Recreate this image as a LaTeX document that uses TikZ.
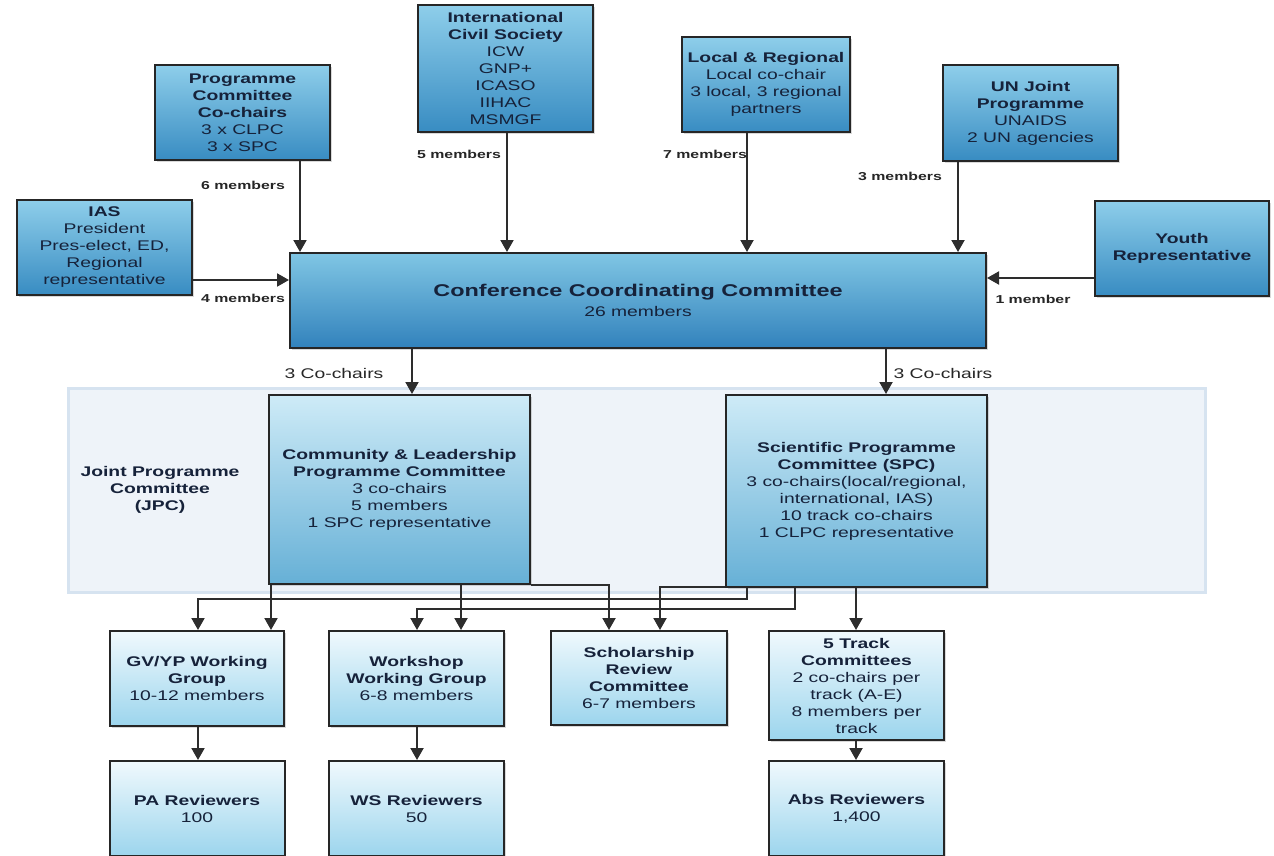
\documentclass[tikz,border=0pt]{standalone}
\usepackage{fontspec}
\setmainfont{Liberation Sans}[FakeStretch=1.38]
\usepackage{tikz}
\usetikzlibrary{arrows.meta}
\usetikzlibrary{shadows}

\definecolor{inkblue}{RGB}{22,34,58}
\definecolor{boxtop}{RGB}{142,206,234}
\definecolor{boxbottom}{RGB}{56,140,194}
\definecolor{ccctop}{RGB}{128,198,228}
\definecolor{cccbottom}{RGB}{50,130,188}
\definecolor{midtop}{RGB}{206,235,247}
\definecolor{midbottom}{RGB}{102,176,214}
\definecolor{lowtop}{RGB}{240,249,253}
\definecolor{lowbottom}{RGB}{156,213,237}
\definecolor{bandfill}{RGB}{238,243,249}
\definecolor{bandline}{RGB}{214,227,240}
\definecolor{wire}{RGB}{45,45,45}

\begin{document}
\begin{tikzpicture}[
    x=1pt, y=-1pt,
    committee/.style={
        % The shape:
        rectangle,
        % The size:
        minimum width=175pt, minimum height=95pt, inner sep=0pt,
        % The border
        line width=2pt,
        draw=black!85,
        drop shadow={shadow xshift=1.5pt, shadow yshift=-2pt, opacity=.3},
        % The filling
        top color=boxtop, bottom color=boxbottom,
        % Font
        font=\fontsize{14}{17}\selectfont, text=inkblue, align=center
    },
    programme/.style={
        committee,
        minimum width=261pt,
        top color=midtop, bottom color=midbottom
    },
    group/.style={
        committee,
        top color=lowtop, bottom color=lowbottom
    },
    band/.style={
        rectangle, inner sep=0pt,
        minimum width=1137pt, minimum height=204pt,
        line width=3pt, draw=bandline, fill=bandfill
    },
    headcount/.style={
        font=\fontsize{11.5}{13}\selectfont\bfseries, text=black!85
    },
    chairs/.style={
        font=\fontsize{14}{17}\selectfont, text=black!85
    },
    link/.style={
        draw=wire, line width=2pt,
        -{Triangle[length=12pt, width=13pt]}
    }]

    \useasboundingbox (0,0) rectangle (1274,856);

    % Joint Programme Committee
    \node [band] (jpc) at (636.5,490) {};
    \node [chairs, align=center, text=inkblue, font=\fontsize{14}{17}\selectfont\bfseries] (jpclabel) at (160,490)
        {Joint Programme\\Committee\\(JPC)};

    % Members of the coordinating committee
    \node [committee] (pcc) at (242.5,112.5)
        {\textbf{Programme}\\\textbf{Committee}\\\textbf{Co-chairs}\\3 x CLPC\\3 x SPC};
    \node [committee] (ias) at (104.5,247.5)
        {\textbf{IAS}\\President\\Pres-elect, ED,\\Regional\\representative};
    \node [committee, minimum height=127pt] (ics) at (505.5,68.5)
        {\textbf{International}\\\textbf{Civil Society}\\ICW\\GNP+\\ICASO\\IIHAC\\MSMGF};
    \node [committee, minimum width=168pt] (lr) at (766,84.5)
        {\textbf{Local \& Regional}\\Local co-chair\\3 local, 3 regional\\partners};
    \node [committee] (unj) at (1030.5,113)
        {\textbf{UN Joint}\\\textbf{Programme}\\UNAIDS\\2 UN agencies};
    \node [committee, minimum width=174pt] (youth) at (1182,248)
        {\textbf{Youth}\\\textbf{Representative}};

    \node [committee, minimum width=696pt, top color=ccctop, bottom color=cccbottom] (ccc) at (638,300.5)
        {{\fontsize{17}{20}\selectfont\bfseries Conference Coordinating Committee}\\[3pt]26 members};

    % Programme committees
    \node [programme, minimum height=189pt] (clpc) at (399.5,489.5)
        {\textbf{Community \& Leadership}\\\textbf{Programme Committee}\\3 co-chairs\\5 members\\1 SPC representative};
    \node [programme, minimum height=192pt] (spc) at (856.5,491)
        {\textbf{Scientific Programme}\\\textbf{Committee (SPC)}\\3 co-chairs(local/regional,\\international, IAS)\\10 track co-chairs\\1 CLPC representative};

    % Working groups
    \node [group, minimum width=174pt] (gvyp) at (197,678.5)
        {\textbf{GV/YP Working}\\\textbf{Group}\\10-12 members};
    \node [group] (wsg) at (416.5,678.5)
        {\textbf{Workshop}\\\textbf{Working Group}\\6-8 members};
    \node [group, minimum width=176pt, minimum height=94pt] (src) at (639,678)
        {\textbf{Scholarship}\\\textbf{Review}\\\textbf{Committee}\\6-7 members};
    \node [group, minimum height=109pt] (track) at (856.5,685.5)
        {\textbf{5 Track}\\\textbf{Committees}\\2 co-chairs per\\track (A-E)\\8 members per\\track};

    % Reviewers
    \foreach \name/\x/\title/\total in {pa/197/PA Reviewers/100, wsr/416.5/WS Reviewers/50, abs/856.5/Abs Reviewers/{1,400}}
    {
        \node [group] (\name) at (\x,808.5) {\textbf{\title}\\\total};
    }

    % Seats on the coordinating committee
    \foreach \src/\x in {pcc/300, ics/507, lr/747, unj/958}
    {
        \draw [link] (\x,0 |- \src.south) -- (\x,0 |- ccc.north);
    }
    \draw [link] (0,280 -| ias.east) -- (0,280 -| ccc.west);
    \draw [link] (0,278 -| youth.west) -- (0,278 -| ccc.east);

    \node [headcount] (n6) at (243,185) {6 members};
    \node [headcount] (n5) at (459,154) {5 members};
    \node [headcount] (n7) at (705,154) {7 members};
    \node [headcount] (n3) at (900,176) {3 members};
    \node [headcount] (n4) at (243,298) {4 members};
    \node [headcount] (n1) at (1033,299) {1 member};

    % Co-chairs
    \draw [link] (412,0 |- ccc.south) -- (412,0 |- clpc.north);
    \draw [link] (886,0 |- ccc.south) -- (886,0 |- spc.north);
    \node [chairs] (cl) at (334,373) {3 Co-chairs};
    \node [chairs] (cr) at (943,373) {3 Co-chairs};

    % Down to the working groups
    \draw [link] (271,0 |- clpc.south) -- (271,0 |- gvyp.north);
    \draw [link] (747,0 |- spc.south) -- (747,599) -| (198,0 |- gvyp.north);
    \draw [link] (461,0 |- clpc.south) -- (461,0 |- wsg.north);
    \draw [link] (795,0 |- spc.south) -- (795,609) -| (417,0 |- wsg.north);
    \draw [link] (0,585 -| clpc.east) -| (609,0 |- src.north);
    \draw [link] (0,587 -| spc.west) -| (660,0 |- src.north);
    \draw [link] (856,0 |- spc.south) -- (856,0 |- track.north);

    % Down to the reviewers
    \draw [link] (198,0 |- gvyp.south) -- (198,0 |- pa.north);
    \draw [link] (417,0 |- wsg.south) -- (417,0 |- wsr.north);
    \draw [link] (856,0 |- track.south) -- (856,0 |- abs.north);
\end{tikzpicture}
\end{document}
